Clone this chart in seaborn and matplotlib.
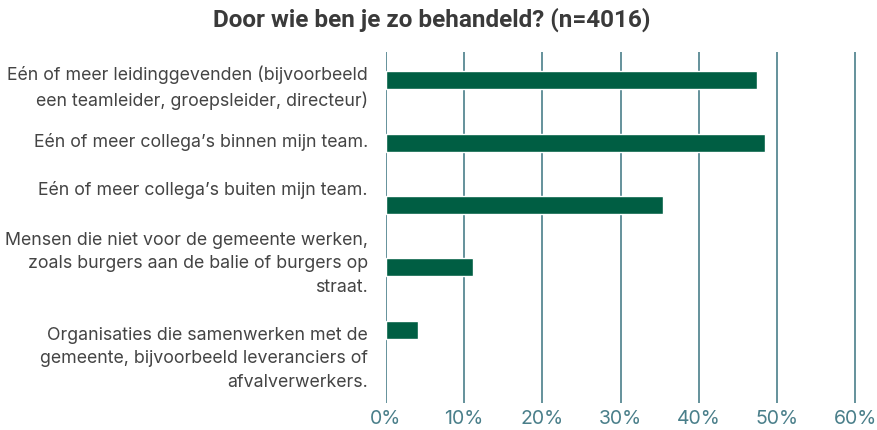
import numpy as np
import pandas as pd
import matplotlib
matplotlib.use("Agg")
import matplotlib.pyplot as plt
import matplotlib.transforms as mtransforms
import seaborn as sns
from matplotlib.ticker import PercentFormatter

categories = [
    "Eén of meer leidinggevenden (bijvoorbeeld\neen teamleider, groepsleider, directeur)",
    "Eén of meer collega’s binnen mijn team.",
    "Eén of meer collega’s buiten mijn team.",
    "Mensen die niet voor de gemeente werken,\nzoals burgers aan de balie of burgers op\nstraat.",
    "Organisaties die samenwerken met de\ngemeente, bijvoorbeeld leveranciers of\nafvalverwerkers.",
]
percentages = [47.5, 48.5, 35.4, 11.1, 4.1]
x_ticks = [0, 10, 20, 30, 40, 50, 60]

# the labels in the original are not centred on their bars (points, + = up)
label_shift = [-1.5, 1.5, 12.5, 6.5, -17.0]

BAR_COLOR = "#005E43"
GRID_COLOR = "#4A7F8A"
TEXT_COLOR = "#444444"

sns.set_theme(style="white")
plt.rcParams["font.family"] = ["Inter", "DejaVu Sans"]

df = pd.DataFrame({"category": categories, "pct": percentages})

fig = plt.figure(figsize=(8.78, 4.30), dpi=100)
ax = fig.add_axes([0.4396, 0.063, 0.538, 0.816])

sns.barplot(data=df, x="pct", y="category", orient="h", color=BAR_COLOR,
            width=0.29, saturation=1, ax=ax)

ax.set_xlim(0, 60.4)
ax.set_ylim(5.17, -0.45)
ax.set_xticks(x_ticks)
ax.xaxis.set_major_formatter(PercentFormatter(decimals=0))
ax.grid(axis="x", color=GRID_COLOR, linewidth=1.2)
ax.set_axisbelow(True)
for s in ax.spines.values():
    s.set_visible(False)

ax.tick_params(axis="x", length=0, labelsize=14, colors=GRID_COLOR, pad=5)
ax.tick_params(axis="y", length=0, labelsize=12.8, labelcolor=TEXT_COLOR, pad=13)
for lbl, dy in zip(ax.get_yticklabels(), label_shift):
    lbl.set_linespacing(1.5)
    lbl.set_transform(lbl.get_transform() +
                      mtransforms.ScaledTranslation(0, dy / 72, fig.dpi_scale_trans))
ax.set_xlabel("")
ax.set_ylabel("")

fig.text(0.492, 0.953, "Door wie ben je zo behandeld? (n=4016)",
         ha="center", va="center", fontsize=17.5, fontweight="bold",
         color="#3A3A3A", family=["Roboto", "DejaVu Sans"])

fig.savefig("out.png", dpi=100)
plt.close(fig)
